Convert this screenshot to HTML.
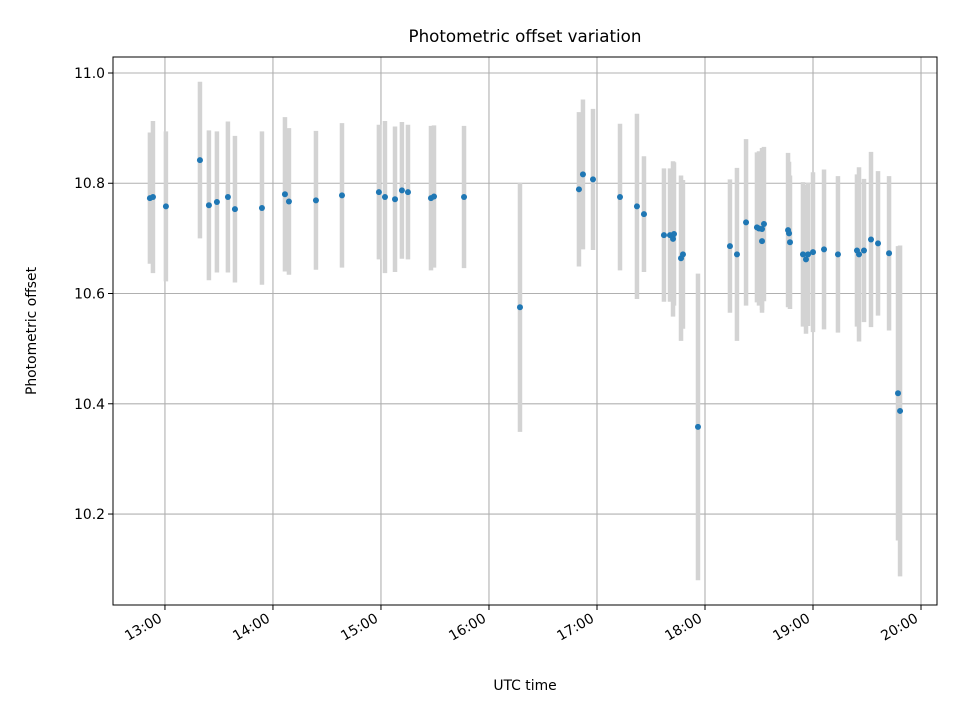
<!DOCTYPE html>
<html><head><meta charset="utf-8"><style>
body{margin:0;background:#fff;}
svg text{font-family:"DejaVu Sans","Liberation Sans",sans-serif;fill:#000;}
</style></head><body>
<svg id="chart" width="960" height="720" xmlns="http://www.w3.org/2000/svg">
<rect width="960" height="720" fill="#fff"/>
<g id="grid"></g>
<g id="errs"></g>
<g id="pts"></g>
<rect x="113" y="57" width="824" height="548" fill="none" stroke="#000" stroke-width="1"/>
<g id="ticks"></g>
<text x="525" y="42" text-anchor="middle" font-size="16.7">Photometric offset variation</text>
<text x="525" y="690" text-anchor="middle" font-size="13.9">UTC time</text>
<text x="36" y="331" text-anchor="middle" font-size="13.9" transform="rotate(-90 36 331)">Photometric offset</text>
</svg>
<script>
const hours=[12.861,12.889,13.009,13.324,13.407,13.481,13.583,13.648,13.898,14.111,14.148,14.398,14.639,14.981,15.037,15.130,15.194,15.25,15.463,15.491,15.769,16.287,16.833,16.870,16.963,17.213,17.370,17.435,17.620,17.676,17.704,17.713,17.778,17.796,17.935,18.231,18.296,18.380,18.481,18.500,18.528,18.528,18.546,18.769,18.778,18.787,18.907,18.935,18.954,19.0,19.102,19.231,19.407,19.426,19.472,19.537,19.602,19.704,19.787,19.806];
const offsets=[10.773,10.775,10.758,10.842,10.760,10.766,10.775,10.753,10.755,10.780,10.767,10.769,10.778,10.784,10.775,10.771,10.787,10.784,10.773,10.776,10.775,10.575,10.789,10.816,10.807,10.775,10.758,10.744,10.706,10.706,10.699,10.708,10.664,10.671,10.358,10.686,10.671,10.729,10.720,10.718,10.717,10.695,10.726,10.715,10.709,10.693,10.671,10.662,10.671,10.675,10.680,10.671,10.678,10.671,10.678,10.698,10.691,10.673,10.419,10.387];
const errors=[0.119,0.138,0.136,0.142,0.136,0.128,0.137,0.133,0.139,0.140,0.133,0.126,0.131,0.122,0.138,0.132,0.124,0.122,0.131,0.129,0.129,0.226,0.140,0.136,0.128,0.133,0.168,0.105,0.121,0.121,0.141,0.13,0.150,0.135,0.278,0.121,0.157,0.151,0.136,0.14,0.147,0.13,0.14,0.14,0.13,0.121,0.131,0.135,0.13,0.145,0.145,0.142,0.138,0.158,0.13,0.159,0.131,0.14,0.267,0.30];
const yTicks=[10.2,10.4,10.6,10.8,11.0];
const yTickLabels=["10.2","10.4","10.6","10.8","11.0"];
const xTicks=[13,14,15,16,17,18,19,20];
const xTickLabels=["13:00","14:00","15:00","16:00","17:00","18:00","19:00","20:00"];
const NS="http://www.w3.org/2000/svg";
const L=113,R=937,T=57,B=605;
const x0=12.519,x1=20.148,y0=10.035,y1=11.029;
const sx=v=>L+(v-x0)/(x1-x0)*(R-L);
const sy=v=>B-(v-y0)/(y1-y0)*(B-T);
function mk(tag,attrs,parent){const e=document.createElementNS(NS,tag);for(const k in attrs)e.setAttribute(k,attrs[k]);parent.appendChild(e);return e;}
const grid=document.getElementById('grid'),ticks=document.getElementById('ticks'),errs=document.getElementById('errs'),pts=document.getElementById('pts');
yTicks.forEach((v,i)=>{const y=sy(v);
 const g=mk('line',{x1:L,x2:R,y1:y,y2:y,stroke:'#b0b0b0','stroke-width':1.1},grid);
 
 
 const t=mk('line',{x1:L-5,x2:L,y1:y,y2:y,stroke:'#000','stroke-width':1},ticks);
 
 
 const tx=mk('text',{x:L-8,y:y+5,'text-anchor':'end','font-size':13.9},ticks);tx.textContent=yTickLabels[i];
 
 
});
xTicks.forEach((v,i)=>{const x=sx(v);
 const g=mk('line',{x1:x,x2:x,y1:T,y2:B,stroke:'#b0b0b0','stroke-width':1.1},grid);
 
 
 const t=mk('line',{x1:x,x2:x,y1:B,y2:B+5,stroke:'#000','stroke-width':1},ticks);
 
 
 const tx=mk('text',{x:x-2,y:B+16,'text-anchor':'end','font-size':13.9,transform:`rotate(-30 ${x-2} ${B+16})`},ticks);tx.textContent=xTickLabels[i];
 
 
});
hours.forEach((h,i)=>{const x=sx(h);
 const e=mk('line',{x1:x,x2:x,y1:sy(offsets[i]+errors[i]),y2:sy(offsets[i]-errors[i]),stroke:'#d3d3d3','stroke-width':4.5},errs);
 
 
 const c=mk('circle',{cx:x,cy:sy(offsets[i]),r:3,fill:'#1f77b4'},pts);
 
 
});
</script>
</body></html>
